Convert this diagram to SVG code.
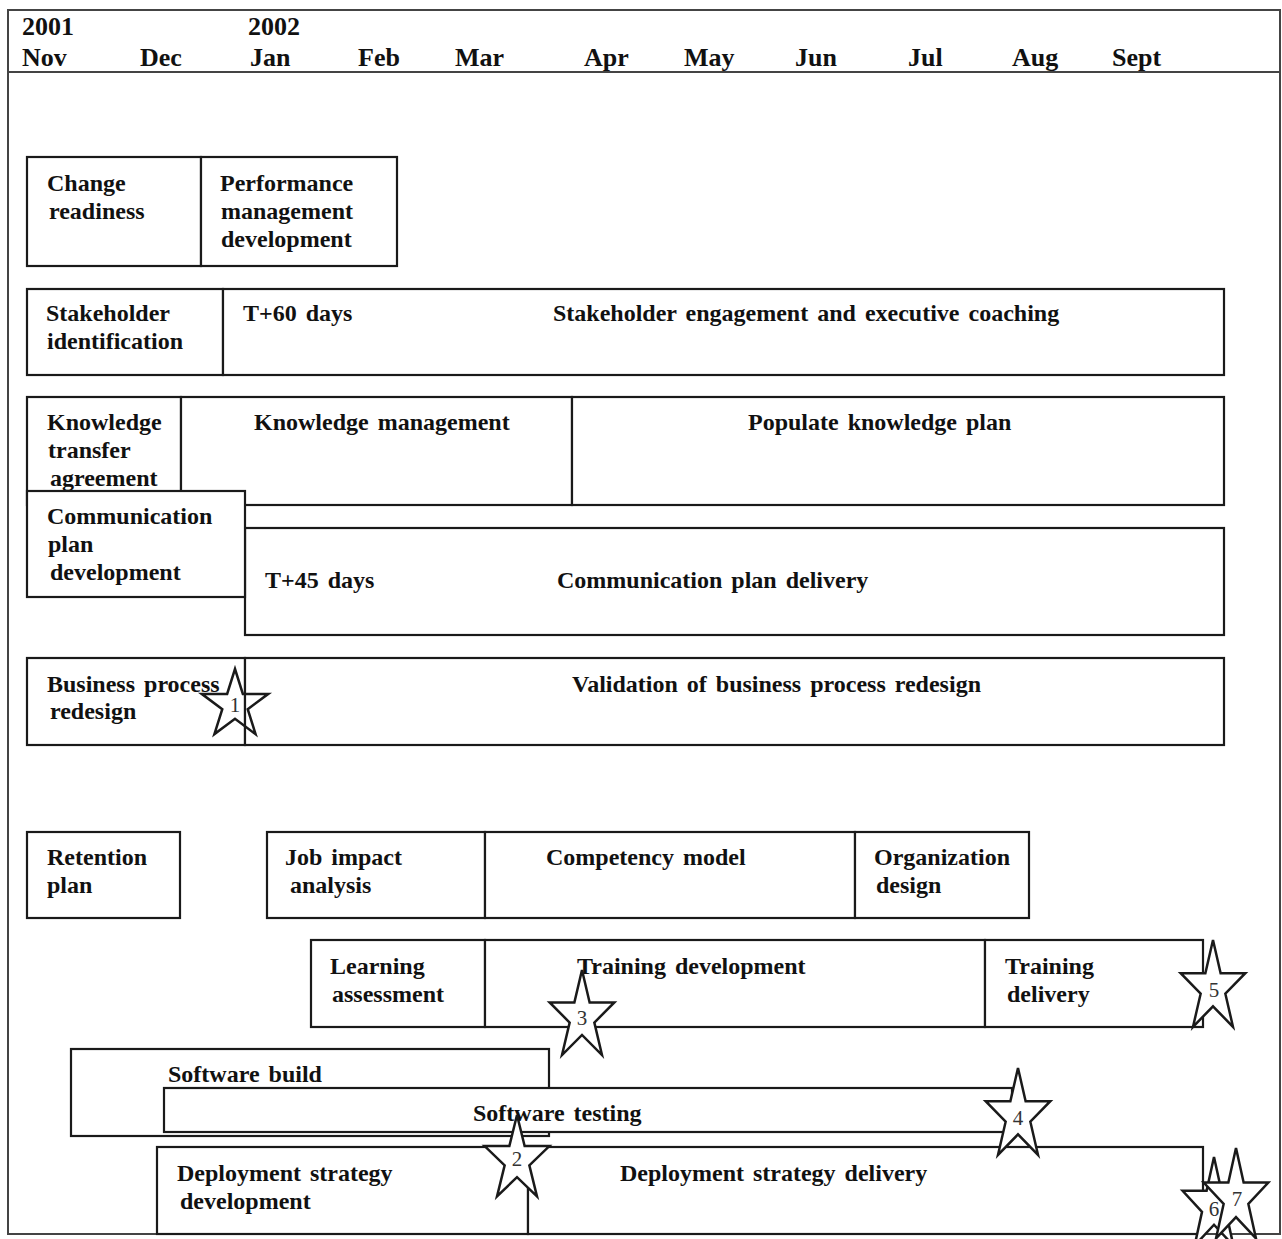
<svg xmlns="http://www.w3.org/2000/svg" xmlns:xlink="http://www.w3.org/1999/xlink" width="1282" height="1239" viewBox="0 0 1282 1239">
<style>
.b{fill:#fff;stroke:#1a1a1a;stroke-width:2.2}
.n{fill:none;stroke:#1a1a1a;stroke-width:2.5}
.st{fill:#fff;stroke:#1a1a1a;stroke-width:2.5}
.t{font-family:"Liberation Serif","Times New Roman",serif;font-weight:bold;font-size:24px;fill:#111;word-spacing:3px}
.h{font-family:"Liberation Serif","Times New Roman",serif;font-weight:bold;font-size:26px;fill:#111}
.sn{font-family:"Liberation Serif","Times New Roman",serif;font-size:21px;fill:#333;text-anchor:middle}
</style>
<defs>
<polygon id="star" points="0,-1 0.2245,-0.309 0.951,-0.309 0.3633,0.118 0.588,0.809 0,0.382 -0.588,0.809 -0.3633,0.118 -0.951,-0.309 -0.2245,-0.309" vector-effect="non-scaling-stroke"/>
</defs>
<rect x="0" y="0" width="1282" height="1239" fill="#fff"/>
<g id="frame">
<rect x="8" y="10" width="1272" height="1224" fill="none" stroke="#444" stroke-width="2"/>
<line x1="8" y1="72" x2="1280" y2="72" stroke="#444" stroke-width="2"/>
</g>
<g id="timeline">
<text class="h" x="22" y="35">2001</text>
<text class="h" x="248" y="35">2002</text>
<text class="h" x="22" y="66">Nov</text>
<text class="h" x="140" y="66">Dec</text>
<text class="h" x="250" y="66">Jan</text>
<text class="h" x="358" y="66">Feb</text>
<text class="h" x="455" y="66">Mar</text>
<text class="h" x="584" y="66">Apr</text>
<text class="h" x="684" y="66">May</text>
<text class="h" x="795" y="66">Jun</text>
<text class="h" x="908" y="66">Jul</text>
<text class="h" x="1012" y="66">Aug</text>
<text class="h" x="1112" y="66">Sept</text>
</g>
<g id="change-readiness"><rect class="b" x="27" y="157" width="174" height="109"/><text class="t" x="47" y="191">Change</text><text class="t" x="49" y="219">readiness</text></g>
<g id="performance-management"><rect class="b" x="201" y="157" width="196" height="109"/><text class="t" x="220" y="191">Performance</text><text class="t" x="221" y="219">management</text><text class="t" x="221" y="247">development</text></g>
<g id="stakeholder-identification"><rect class="b" x="27" y="289" width="196" height="86"/><text class="t" x="46" y="321">Stakeholder</text><text class="t" x="47" y="349">identification</text></g>
<g id="stakeholder-engagement"><rect class="b" x="223" y="289" width="1001" height="86"/><text class="t" x="243" y="321">T+60 days</text><text class="t" x="553" y="321">Stakeholder engagement and executive coaching</text></g>
<g id="knowledge-transfer"><rect class="b" x="27" y="397" width="154" height="108"/><text class="t" x="47" y="430">Knowledge</text><text class="t" x="48" y="458">transfer</text><text class="t" x="50" y="486">agreement</text></g>
<g id="knowledge-management"><rect class="b" x="181" y="397" width="391" height="108"/><text class="t" x="254" y="430">Knowledge management</text></g>
<g id="populate-knowledge"><rect class="b" x="572" y="397" width="652" height="108"/><text class="t" x="748" y="430">Populate knowledge plan</text></g>
<g id="communication-delivery"><rect class="b" x="245" y="528" width="979" height="107"/><text class="t" x="265" y="588">T+45 days</text><text class="t" x="557" y="588">Communication plan delivery</text></g>
<g id="communication-development"><rect class="b" x="27" y="491" width="218" height="106"/><text class="t" x="47" y="524">Communication</text><text class="t" x="48" y="552">plan</text><text class="t" x="50" y="580">development</text></g>
<g id="business-process"><rect class="b" x="27" y="658" width="218" height="87"/><text class="t" x="47" y="692">Business process</text><text class="t" x="50" y="719">redesign</text></g>
<g id="validation"><rect class="b" x="245" y="658" width="979" height="87"/><text class="t" x="572" y="692">Validation of business process redesign</text></g>
<g id="retention-plan"><rect class="b" x="27" y="832" width="153" height="86"/><text class="t" x="47" y="865">Retention</text><text class="t" x="47" y="893">plan</text></g>
<g id="job-impact"><rect class="b" x="267" y="832" width="218" height="86"/><text class="t" x="285" y="865">Job impact</text><text class="t" x="290" y="893">analysis</text></g>
<g id="competency-model"><rect class="b" x="485" y="832" width="370" height="86"/><text class="t" x="546" y="865">Competency model</text></g>
<g id="organization-design"><rect class="b" x="855" y="832" width="174" height="86"/><text class="t" x="874" y="865">Organization</text><text class="t" x="876" y="893">design</text></g>
<g id="learning-assessment"><rect class="b" x="311" y="940" width="174" height="87"/><text class="t" x="330" y="974">Learning</text><text class="t" x="332" y="1002">assessment</text></g>
<g id="training-development"><rect class="b" x="485" y="940" width="500" height="87"/><text class="t" x="577" y="974">Training development</text></g>
<g id="training-delivery"><rect class="b" x="985" y="940" width="218" height="87"/><text class="t" x="1005" y="974">Training</text><text class="t" x="1007" y="1002">delivery</text></g>
<g id="software-build"><rect class="b" x="71" y="1049" width="478" height="87"/><text class="t" x="168" y="1082">Software build</text></g>
<g id="software-testing"><rect class="b" x="164" y="1088" width="848" height="44"/><text class="t" x="473" y="1121">Software testing</text></g>
<g id="deployment-development"><rect class="b" x="157" y="1147" width="371" height="87"/><text class="t" x="177" y="1181">Deployment strategy</text><text class="t" x="180" y="1209">development</text></g>
<g id="deployment-delivery"><rect class="b" x="528" y="1147" width="675" height="87"/><text class="t" x="620" y="1181">Deployment strategy delivery</text></g>
<g id="connectors"></g>
<g id="milestone-1"><use xlink:href="#star" class="n" transform="translate(235,705) scale(35,36)"/><text class="sn" x="235" y="712" font-size="17">1</text></g>
<g id="milestone-2"><use xlink:href="#star" class="st" transform="translate(517,1160) scale(34,45)"/><text class="sn" x="517" y="1166">2</text></g>
<g id="milestone-3"><use xlink:href="#star" class="st" transform="translate(582,1017) scale(34,47)"/><text class="sn" x="582" y="1025">3</text></g>
<g id="milestone-4"><use xlink:href="#star" class="st" transform="translate(1018,1116) scale(34,48)"/><text class="sn" x="1018" y="1125">4</text></g>
<g id="milestone-5"><use xlink:href="#star" class="st" transform="translate(1213,988) scale(34,48)"/><text class="sn" x="1214" y="997">5</text></g>
<g id="milestone-6"><use xlink:href="#star" class="st" transform="translate(1214,1206) scale(33,49)"/><text class="sn" x="1214" y="1216">6</text></g>
<g id="milestone-7"><use xlink:href="#star" class="st" transform="translate(1236,1198) scale(34,50)"/><text class="sn" x="1237" y="1206">7</text></g>
</svg>
